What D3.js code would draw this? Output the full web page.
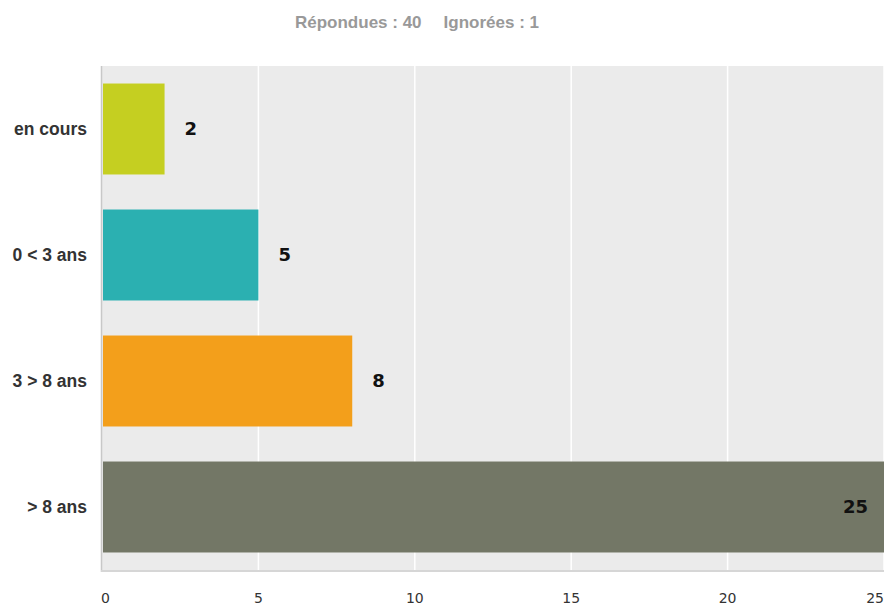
<!DOCTYPE html>
<html>
<head>
<meta charset="utf-8">
<script src="https://cdn.jsdelivr.net/npm/d3@7"></script>
<style>
  body { margin: 0; background: #fff; }
</style>
</head>
<body>
<div id="chart"></div>
<script>
// Data
const categories = ["en cours", "0 < 3 ans", "3 > 8 ans", "> 8 ans"];
const counts = [2, 5, 8, 25];
const barColors = ["#c5cf21", "#2bb0b1", "#f39f1b", "#737766"];
const xTicks = [0, 5, 10, 15, 20, 25];
const answered = 40;
const skipped = 1;

// set the dimensions
const width = 886, height = 608;
const plot = {left: 102, right: 884, top: 66, bottom: 570};

const svg = d3.select("#chart").append("svg")
  .attr("width", width)
  .attr("height", height);

// header
const header = svg.append("text")
  .attr("x", 417)
  .attr("y", 28)
  .attr("text-anchor", "middle")
  .style("font-family", "'Liberation Sans', Arial, sans-serif")
  .style("font-weight", "bold")
  .style("font-size", "17px")
  .style("fill", "#999");
header.append("tspan").text("Répondues : " + answered);
header.append("tspan").attr("dx", 22).text("Ignorées : " + skipped);

// scales
const x = d3.scaleLinear()
  .domain([0, 25])
  .range([plot.left, plot.right]);

const y = d3.scaleBand()
  .domain(categories)
  .range([plot.top, plot.bottom])
  .paddingInner(0.278)
  .paddingOuter(0.139);

// plot background
svg.append("rect")
  .attr("x", plot.left)
  .attr("y", plot.top)
  .attr("width", plot.right - plot.left)
  .attr("height", plot.bottom - plot.top)
  .attr("fill", "#ebebeb");

// grid lines
svg.append("g")
  .selectAll("line")
  .data(xTicks.slice(1))
  .enter().append("line")
  .attr("x1", d => x(d)).attr("x2", d => x(d))
  .attr("y1", plot.top).attr("y2", plot.bottom)
  .attr("stroke", "#fff")
  .attr("stroke-width", 1.5);

// borders
svg.append("line")
  .attr("x1", plot.left - 0.5).attr("x2", plot.left - 0.5)
  .attr("y1", plot.top).attr("y2", plot.bottom + 2)
  .attr("stroke", "#c8c8c8").attr("stroke-width", 1.5);
svg.append("line")
  .attr("x1", plot.left - 1).attr("x2", plot.right)
  .attr("y1", plot.bottom + 1).attr("y2", plot.bottom + 1)
  .attr("stroke", "#d6d6d6").attr("stroke-width", 2);

// bars
svg.selectAll(".bar")
  .data(categories)
  .enter().append("rect")
  .attr("class", "bar")
  .attr("x", x(0) + 1)
  .attr("y", d => y(d))
  .attr("width", (d, i) => x(counts[i]) - x(0) - 1)
  .attr("height", y.bandwidth())
  .attr("fill", (d, i) => barColors[i]);

// value labels
svg.selectAll(".val")
  .data(categories)
  .enter().append("text")
  .attr("class", "val")
  .attr("x", (d, i) => counts[i] >= 20 ? x(counts[i]) - 16 : x(counts[i]) + 20)
  .attr("y", d => y(d) + y.bandwidth() / 2)
  .attr("dy", "0.36em")
  .attr("text-anchor", (d, i) => counts[i] >= 20 ? "end" : "start")
  .style("font-family", "'DejaVu Sans', Verdana, sans-serif")
  .style("font-size", "18px")
  .style("font-weight", "bold")
  .style("fill", "#111")
  .text((d, i) => counts[i]);

// category labels
svg.selectAll(".cat")
  .data(categories)
  .enter().append("text")
  .attr("class", "cat")
  .attr("x", 87)
  .attr("y", d => y(d) + y.bandwidth() / 2)
  .attr("dy", "0.35em")
  .attr("text-anchor", "end")
  .style("font-family", "'Liberation Sans', Arial, sans-serif")
  .style("font-weight", "bold")
  .style("font-size", "17.5px")
  .style("fill", "#333")
  .text(d => d);

// x tick labels
svg.selectAll(".tick-label")
  .data(xTicks)
  .enter().append("text")
  .attr("class", "tick-label")
  .attr("x", (d, i) => i === 0 ? x(d) - 1 : x(d))
  .attr("y", 603)
  .attr("text-anchor", (d, i) => i === 0 ? "start" : (i === xTicks.length - 1 ? "end" : "middle"))
  .style("font-family", "'DejaVu Sans', Verdana, sans-serif")
  .style("font-size", "14px")
  .style("fill", "#333")
  .text(d => d);
</script>
</body>
</html>
